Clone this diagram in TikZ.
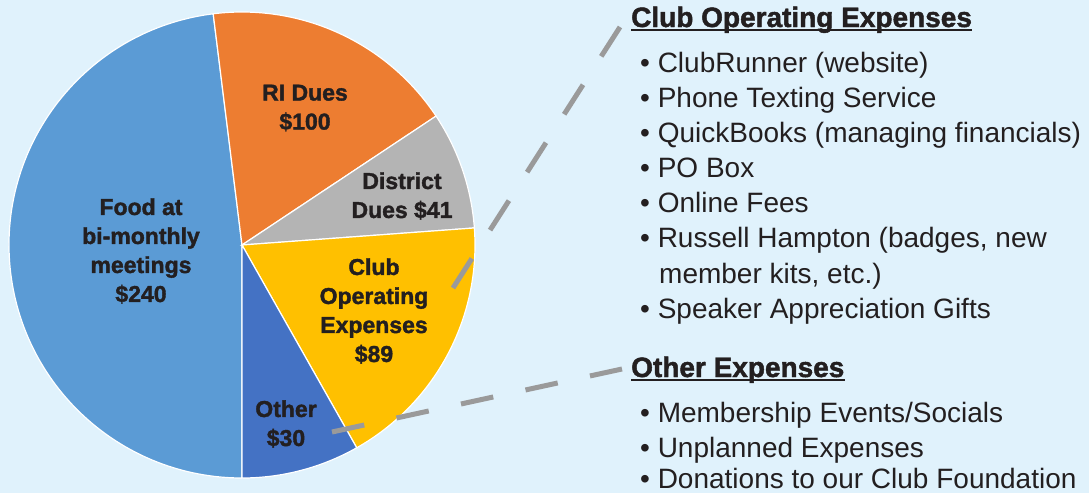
\documentclass[tikz,border=0pt]{standalone}
\usepackage{fontspec}
\setmainfont{Liberation Sans}
\newfontfamily\heavyfont[BoldFeatures={FakeBold=1.6}]{Liberation Sans}
\usetikzlibrary{positioning}
\definecolor{bgblue}{HTML}{E0F2FC}
\definecolor{foodblue}{HTML}{5B9BD5}
\definecolor{duesorange}{HTML}{ED7D31}
\definecolor{distgray}{HTML}{B4B4B4}
\definecolor{clubyellow}{HTML}{FFC000}
\definecolor{otherblue}{HTML}{4472C4}
\definecolor{ink}{HTML}{231F20}
\definecolor{dashgray}{HTML}{9A9A9A}

\begin{document}
\begin{tikzpicture}[x=1pt,y=1pt,
  slice/.style={draw=white,line width=1.2pt},
  pielabel/.style={font=\fontsize{23}{29}\heavyfont\bfseries,text=ink,align=center,inner sep=0pt},
  heading/.style={font=\fontsize{28}{34}\heavyfont\bfseries,text=ink,inner sep=0pt,anchor=base west},
  item/.style={font=\fontsize{28}{35}\selectfont,text=ink,inner sep=0pt,anchor=base west},
  leader/.style={draw=dashgray,line width=5pt}]
\fill[bgblue] (0,0) rectangle (1089,-493);
\useasboundingbox (0,0) rectangle (1089,-493);
% pie
\coordinate (c) at (242,-245);
\filldraw[fill=foodblue,slice] (c) -- ++(97.1:233) arc (97.1:270:233) -- cycle;
\filldraw[fill=duesorange,slice] (c) -- ++(33.6:233) arc (33.6:97.1:233) -- cycle;
\filldraw[fill=distgray,slice] (c) -- ++(4.2:233) arc (4.2:33.6:233) -- cycle;
\filldraw[fill=clubyellow,slice] (c) -- ++(-60.5:233) arc (-60.5:4.2:233) -- cycle;
\filldraw[fill=otherblue,slice] (c) -- ++(-90:233) arc (-90:-60.5:233) -- cycle;
\node[pielabel] (food) at (141,-251) {Food at\\bi-monthly\\meetings\\\$240};
\node[pielabel] (ri) at (305,-108) {RI Dues\\\$100};
\node[pielabel] (district) at (402,-196) {District\\Dues \$41};
\node[pielabel] (club) at (374,-311) {Club\\Operating\\Expenses\\\$89};
\node[pielabel] (other) at (286,-424) {Other\\\$30};
% headings
\node[heading] (clubhead) at (631,-27) {Club Operating Expenses};
\node[heading] (otherhead) at (631,-377) {Other Expenses};
\draw[ink,line width=1.8pt] ([yshift=-3pt]clubhead.base west) -- ([yshift=-3pt]clubhead.base east);
\draw[ink,line width=1.8pt] ([yshift=-3pt]otherhead.base west) -- ([yshift=-3pt]otherhead.base east);
% items
\node[item] (runner) at (640,-72) {• ClubRunner (website)};
\node[item] (phone) at (640,-107) {• Phone Texting Service};
\node[item] (books) at (640,-142) {• QuickBooks (managing financials)};
\node[item] (pobox) at (640,-177) {• PO Box};
\node[item] (online) at (640,-212) {• Online Fees};
\node[item] (russell) at (640,-247) {• Russell Hampton (badges, new};
\node[item] (kits) at (659,-283) {member kits, etc.)};
\node[item] (gifts) at (640,-318) {• Speaker Appreciation Gifts};
\node[item] (events) at (640,-422) {• Membership Events/Socials};
\node[item] (unplanned) at (640,-457) {• Unplanned Expenses};
\node[item] (donations) at (640,-488) {• Donations to our Club Foundation};
% leaders
\coordinate (clubtip) at (453,-288);
\coordinate (othertip) at (332,-432);
\draw[leader,dash pattern=on 35pt off 33.75pt] (clubtip) -- ([xshift=-11pt]clubhead.base west);
\draw[leader,dash pattern=on 33pt off 33pt] (othertip) -- ([shift={(-9pt,8pt)}]otherhead.base west);
\end{tikzpicture}
\end{document}
